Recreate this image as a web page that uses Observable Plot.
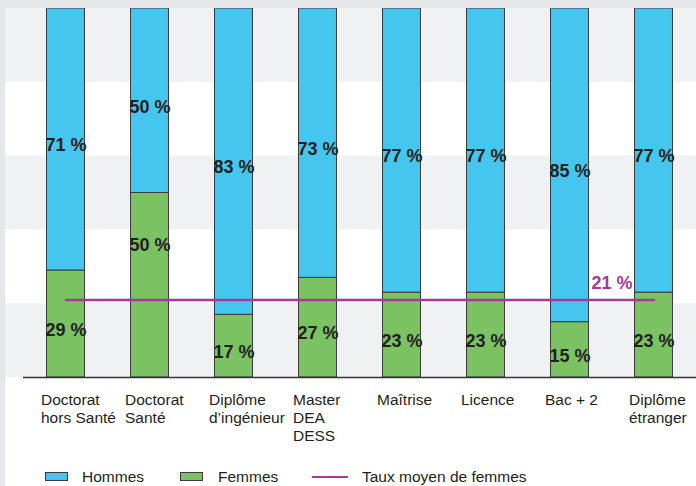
<!DOCTYPE html>
<html>
<head>
<meta charset="utf-8">
<script src="https://cdn.jsdelivr.net/npm/d3@7"></script>
<script src="https://cdn.jsdelivr.net/npm/@observablehq/plot@0.6"></script>
<style>
  html, body { margin: 0; padding: 0; }
  body { width: 696px; height: 486px; overflow: hidden; background: #e6e7e9; position: relative; }
  #wrap { position: absolute; left: 5px; top: 8px; width: 691px; height: 478px; background: #ffffff; overflow: hidden; }
  #chart svg { display: block; }
  .legend-item { position: absolute; font-family: "Liberation Sans", Arial, sans-serif; font-size: 15.5px; line-height: 16px; color: #231f20; white-space: nowrap; }
  .swatch { position: absolute; width: 23px; height: 9px; box-sizing: border-box; border: 1px solid #3a3a3a; }
  .lineswatch { position: absolute; width: 36px; height: 2.7px; }
</style>
</head>
<body>
<div id="wrap">
  <div id="chart"></div>
  <div id="legend"></div>
</div>
<script>
// ---- Data ----
const categories = ["Doctorat hors Santé", "Doctorat Santé", "Diplôme d’ingénieur", "Master DEA DESS", "Maîtrise", "Licence", "Bac + 2", "Diplôme étranger"];
const tickLabels = ["Doctorat\nhors Santé", "Doctorat\nSanté", "Diplôme\nd’ingénieur", "Master\nDEA\nDESS", "Maîtrise", "Licence", "Bac + 2", "Diplôme\nétranger"];
const hommes = [71, 50, 83, 73, 77, 77, 85, 77];
const femmes = [29, 50, 17, 27, 23, 23, 15, 23];
const tauxMoyenFemmes = 21;
const seriesNames = ["Hommes", "Femmes", "Taux moyen de femmes"];
const bandStops = [0, 20, 40, 60, 80, 100];

// ---- Styles ----
const BLUE = "#45c6ef";
const GREEN = "#7bc263";
const PURPLE = "#a8379b";
const TEXT = "#231f20";
const BAND_GRAY = "#f0f1f3";
const SANS = "'Liberation Sans', Arial, sans-serif";

const rows = categories.map((c, i) => ({cat: c, label: tickLabels[i], h: hommes[i], f: femmes[i]}));
const bands = d3.pairs(bandStops).map(([lo, hi], i) => ({lo, hi, shaded: i % 2 === 0})).filter(d => d.shaded);

// Femmes label: centre of the segment, unless it would sit on the average line,
// in which case it goes midway between the line and the segment top.
const femmesLabelY = d => (Math.abs(d.f / 2 - tauxMoyenFemmes) < 6 ? (d.f + tauxMoyenFemmes) / 2 + 2 : d.f / 2);

const pctStyle = {fontFamily: SANS, fontWeight: "bold", fontSize: 18, fill: TEXT};

const chart = Plot.plot({
  width: 691,
  height: 450,
  marginTop: 0,
  marginBottom: 81,
  marginLeft: 0,
  marginRight: 0,
  style: {background: "transparent", overflow: "visible", fontFamily: SANS},
  x: {domain: categories, range: [18, 691], paddingInner: 0.548, paddingOuter: 0.28, round: false, axis: null},
  y: {domain: [0, 100], axis: null},
  marks: [
    Plot.rect(bands, {y1: "lo", y2: "hi", fill: BAND_GRAY}),
    Plot.barY(rows, {x: "cat", y1: 0, y2: "f", fill: GREEN, stroke: "#3a3a3a", strokeWidth: 1}),
    Plot.barY(rows, {x: "cat", y1: "f", y2: d => d.f + d.h, fill: BLUE, stroke: "#3a3a3a", strokeWidth: 1}),
    Plot.ruleY([0], {insetLeft: 18, stroke: "#333333", strokeWidth: 1.5}),
    Plot.line(categories, {x: d => d, y: () => tauxMoyenFemmes, stroke: PURPLE, strokeWidth: 2.7}),
    Plot.text(rows, {x: "cat", y: d => d.f + d.h / 2, text: d => d.h + " %", dy: 6, ariaLabel: "pct", ...pctStyle}),
    Plot.text(rows, {x: "cat", y: femmesLabelY, text: d => d.f + " %", dy: 6, ariaLabel: "pct", ...pctStyle}),
    Plot.text([tauxMoyenFemmes], {x: () => categories[6], y: d => d, text: d => d + " %", dx: 42, dy: -17, ariaLabel: "pct", ...pctStyle, fill: PURPLE}),
    Plot.text(rows, {x: "cat", frameAnchor: "bottom", text: "label", textAnchor: "start", lineAnchor: "top", dx: -25, dy: 15, fontSize: 15.5, lineHeight: 1.16, fill: TEXT, fontFamily: SANS})
  ]
});
// condensed look for the bold percentage labels
d3.select(chart).selectAll('g[aria-label="pct"] text').each(function () {
  const t = this.getAttribute("transform") || "";
  this.setAttribute("transform", t + " scale(0.83,1)");
});
document.getElementById("chart").appendChild(chart);

// ---- Legend ----
const legend = document.getElementById("legend");
function add(el) { legend.appendChild(el); return el; }
function swatch(left, color) {
  const s = add(document.createElement("div"));
  s.className = "swatch"; s.style.left = left + "px"; s.style.top = "464px"; s.style.background = color;
}
function label(left, text) {
  const t = add(document.createElement("div"));
  t.className = "legend-item"; t.style.left = left + "px"; t.style.top = "460.5px"; t.textContent = text;
}
swatch(40, BLUE); label(77, seriesNames[0]);
swatch(175, GREEN); label(213, seriesNames[1]);
const ls = add(document.createElement("div"));
ls.className = "lineswatch"; ls.style.left = "307px"; ls.style.top = "467.7px"; ls.style.background = PURPLE;
label(357, seriesNames[2]);
</script>
</body>
</html>
